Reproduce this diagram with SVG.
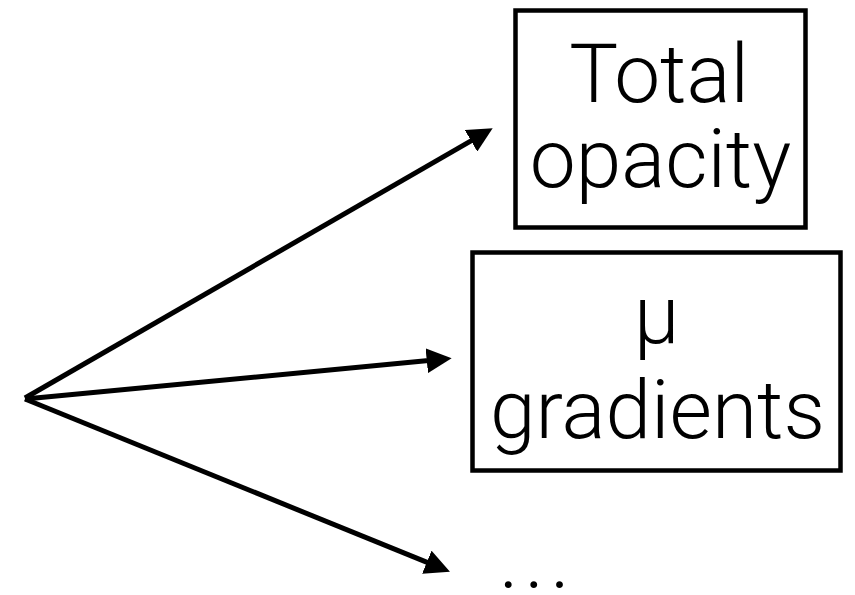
<svg xmlns="http://www.w3.org/2000/svg" width="855" height="595" viewBox="0 0 855 595">
  <style>
    .box { fill: #fff; stroke: #000; stroke-width: 4.5; }
    .lbl { font-family: Roboto, "Liberation Sans", sans-serif; font-weight: 300; font-size: 82px; fill: #000; text-anchor: middle; }
    .dots { font-family: Roboto, "Liberation Sans", sans-serif; font-weight: 300; font-size: 82px; fill: #000; letter-spacing: 6px; }
    .edge { stroke: #000; stroke-width: 5; fill: none; marker-end: url(#arrow); }
  </style>
  <defs>
    <marker id="arrow" viewBox="0 0 25 25" refX="15" refY="12.5" markerWidth="25" markerHeight="25" markerUnits="userSpaceOnUse" orient="auto">
      <path d="M0,0 L25,12.5 L0,25 z" fill="#000"/>
    </marker>
  </defs>
  <rect width="855" height="595" fill="#fff"/>
  <g id="connectors">
    <line class="edge" x1="25" y1="398" x2="484.0" y2="133.3"/>
    <line class="edge" x1="25" y1="399" x2="441.7" y2="359.25"/>
    <line class="edge" x1="25" y1="399" x2="440.7" y2="567.9"/>
  </g>
  <g id="node-total-opacity">
    <rect class="box" x="515.5" y="10.5" width="290" height="217"/>
    <text class="lbl" x="659" y="102">Total</text>
    <text class="lbl" x="660.5" y="187">opacity</text>
  </g>
  <g id="node-mu-gradients">
    <rect class="box" x="472.5" y="252.5" width="368" height="218"/>
    <text class="lbl" x="656.7" y="343">μ</text>
    <text class="lbl" x="657.5" y="438">gradients</text>
  </g>
  <g id="node-more">
    <text class="dots" x="499" y="588">...</text>
  </g>
</svg>
